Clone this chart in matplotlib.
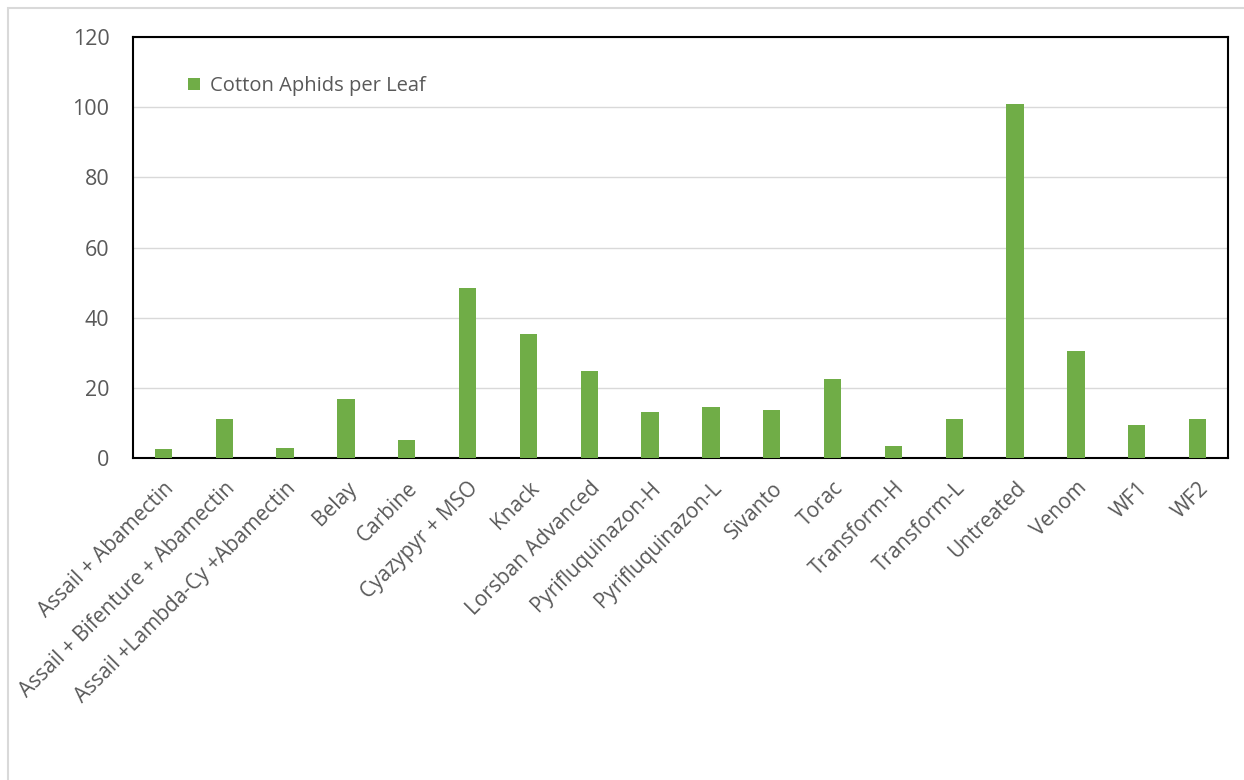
import matplotlib
matplotlib.use("Agg")
import matplotlib.pyplot as plt
from matplotlib.patches import Rectangle

treatments = [
    "Assail + Abamectin", "Assail + Bifenture + Abamectin", "Assail +Lambda-Cy +Abamectin",
    "Belay", "Carbine", "Cyazypyr + MSO", "Knack", "Lorsban Advanced",
    "Pyrifluquinazon-H", "Pyrifluquinazon-L", "Sivanto", "Torac", "Transform-H",
    "Transform-L", "Untreated", "Venom", "WF1", "WF2",
]
aphids_per_leaf = [2.6, 11.2, 2.9, 16.9, 5.2, 48.5, 35.4, 24.9, 13.2,
                   14.6, 13.8, 22.6, 3.5, 11.2, 100.8, 30.6, 9.5, 11.2]
y_ticks = [0, 20, 40, 60, 80, 100, 120]

GREEN = "#70AD47"
TEXT = "#595959"
GRID = "#D9D9D9"

plt.rcParams["font.family"] = ["Open Sans", "DejaVu Sans"]

fig = plt.figure(figsize=(12.44, 7.80), dpi=100)

# outer chart frame
fig.patches.append(Rectangle((8 / 1244, -0.01), 1.1, 1 - 8 / 780 + 0.01,
                             transform=fig.transFigure, fill=False,
                             edgecolor=GRID, linewidth=1.5))

ax = fig.add_axes([133 / 1244, 1 - 458.3 / 780, (1228 - 133) / 1244, (458.3 - 37) / 780])

x = list(range(len(treatments)))
ax.bar(x, aphids_per_leaf, width=0.286, color=GREEN, label="Cotton Aphids per Leaf", zorder=3)

ax.set_xlim(-0.5, len(treatments) - 0.5)
ax.set_ylim(0, 120)
ax.set_yticks(y_ticks)
ax.yaxis.grid(True, color=GRID, linewidth=1, zorder=0)
ax.set_axisbelow(True)

ax.set_xticks(x)
ax.set_xticklabels(treatments, rotation=45, ha="right", rotation_mode="anchor",
                   fontsize=15, color=TEXT)
ax.tick_params(axis="x", length=0, pad=14)
ax.tick_params(axis="y", length=0, pad=17, labelsize=15.5, labelcolor=TEXT)

for s in ax.spines.values():
    s.set_color("black")
    s.set_linewidth(1.5)

ax.legend(loc="upper left", bbox_to_anchor=(0.034, 0.95), frameon=False,
          fontsize=14.5, labelcolor=TEXT, handlelength=0.6, handleheight=0.6,
          handletextpad=0.45)

fig.savefig("out.png", dpi=100)
